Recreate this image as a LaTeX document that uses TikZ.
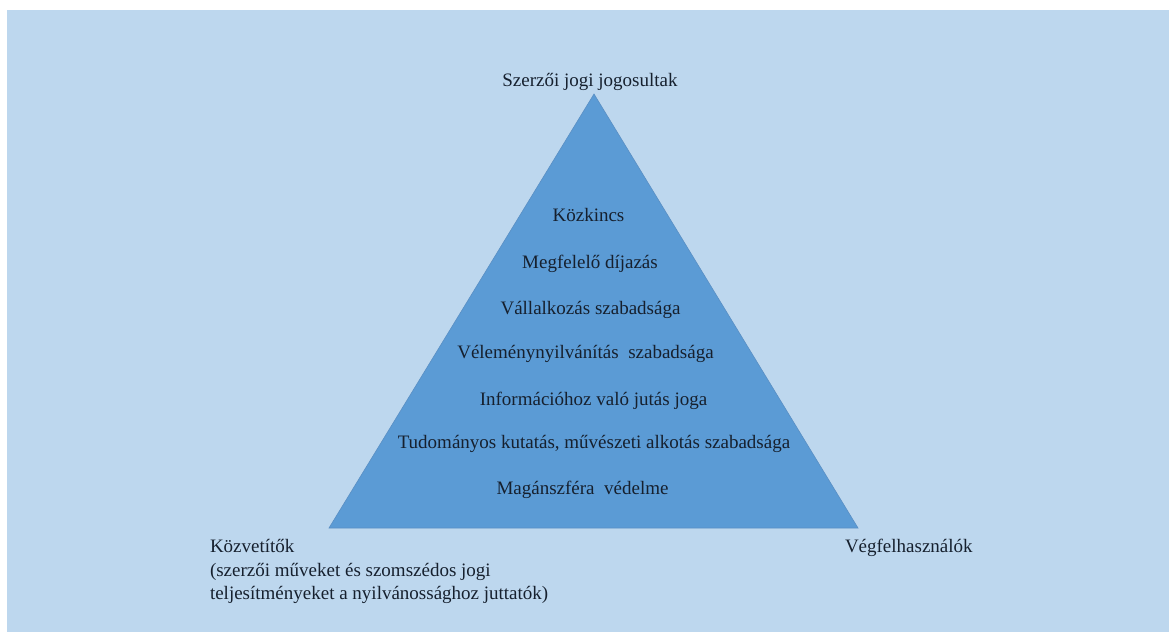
\documentclass[tikz,border=0pt]{standalone}
\usepackage{fontspec}
\setmainfont{Liberation Serif}
\definecolor{bgblue}{HTML}{BDD7EE}
\definecolor{triblue}{HTML}{5B9BD5}
\definecolor{triedge}{HTML}{5A8FC4}
\definecolor{txt}{HTML}{16202E}
\tikzset{
  lbl/.style={inner sep=0pt, outer sep=0pt, text=txt, font=\fontsize{19}{23.5}\selectfont},
  inlbl/.style={lbl, anchor=base},
  leftlbl/.style={lbl, anchor=base west},
}
\begin{document}
\begin{tikzpicture}[x=1pt,y=-1pt]
\useasboundingbox (0,0) rectangle (1169,632);
\fill[white] (0,0) rectangle (1169,632);
\fill[bgblue] (7,10) rectangle (1169,632);
\coordinate (apex) at (594,94);
\coordinate (bl) at (329,528);
\coordinate (br) at (858,528);
\filldraw[fill=triblue, draw=triedge, line width=0.6pt, line join=miter] (apex) -- (br) -- (bl) -- cycle;
\node[inlbl] (top) at (590,86) {Szerzői jogi jogosultak};
\node[inlbl] (l1) at (588.5,221.5) {Közkincs};
\node[inlbl] (l2) at (590,268) {Megfelelő díjazás};
\node[inlbl] (l3) at (590.5,314.5) {Vállalkozás szabadsága};
\node[inlbl] (l4) at (585.5,358) {Véleménynyilvánítás\ \ szabadsága};
\node[inlbl] (l5) at (593.5,405) {Információhoz való jutás joga};
\node[inlbl] (l6) at (594,448) {Tudományos kutatás, művészeti alkotás szabadsága};
\node[inlbl] (l7) at (582.5,494) {Magánszféra\ \ védelme};
\node[leftlbl] (kozv1) at (210,552.5) {Közvetítők};
\node[leftlbl] (kozv2) at (210,576) {(szerzői műveket és szomszédos jogi};
\node[leftlbl] (kozv3) at (210,599.5) {teljesítményeket a nyilvánossághoz juttatók)};
\node[leftlbl] (veg) at (845,552.5) {Végfelhasználók};
\end{tikzpicture}
\end{document}
